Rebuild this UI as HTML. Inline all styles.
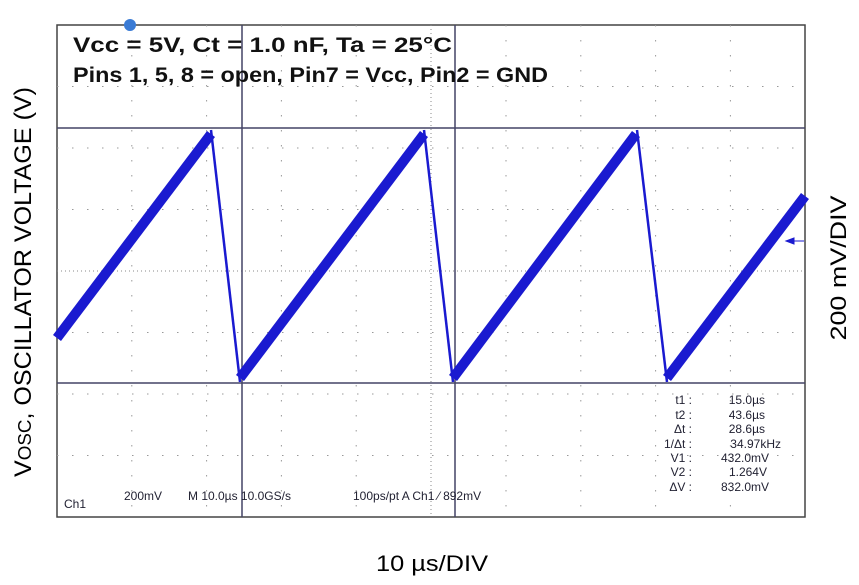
<!DOCTYPE html>
<html><head><style>
body{margin:0;background:#fff;width:859px;height:585px;overflow:hidden;position:relative;font-family:"Liberation Sans",sans-serif}
</style></head><body>
<svg width="859" height="585" style="position:absolute;left:0;top:0" font-family="Liberation Sans, sans-serif">
<rect x="57" y="25" width="748" height="492" fill="#fff" stroke="#444" stroke-width="1.5"/>
<g stroke="#999" stroke-width="1" stroke-dasharray="1.5,13.5">
<line x1="131.8" y1="25" x2="131.8" y2="517"/><line x1="206.6" y1="25" x2="206.6" y2="517"/>
<line x1="281.4" y1="25" x2="281.4" y2="517"/><line x1="356.2" y1="25" x2="356.2" y2="517"/>
<line x1="506" y1="25" x2="506" y2="517"/><line x1="580.8" y1="25" x2="580.8" y2="517"/>
<line x1="655.6" y1="25" x2="655.6" y2="517"/><line x1="730.4" y1="25" x2="730.4" y2="517"/>
<line x1="57" y1="86.5" x2="805" y2="86.5"/><line x1="57" y1="148" x2="805" y2="148"/>
<line x1="57" y1="209.5" x2="805" y2="209.5"/><line x1="57" y1="332.5" x2="805" y2="332.5"/>
<line x1="57" y1="394" x2="805" y2="394"/><line x1="57" y1="455.5" x2="805" y2="455.5"/>
</g>
<g stroke="#888" stroke-width="1" stroke-dasharray="1,3">
<line x1="431" y1="25" x2="431" y2="517"/><line x1="57" y1="271" x2="805" y2="271"/>
</g>
<g stroke="#446" stroke-width="1.5">
<line x1="57" y1="128" x2="805" y2="128"/><line x1="57" y1="383" x2="805" y2="383"/>
<line x1="242" y1="25" x2="242" y2="517"/><line x1="455" y1="25" x2="455" y2="517"/>
</g>
<circle cx="130" cy="25" r="6" fill="#3a7bd5"/>
<g fill="none" stroke="#1a1ad0" stroke-linejoin="round">
<polyline stroke-width="10" points="57,338 211,134"/>
<polyline stroke-width="10" points="240,378 424,134"/>
<polyline stroke-width="10" points="453,378 636,134"/>
<polyline stroke-width="10" points="667,378 805,196"/>
<line stroke-width="2.5" x1="211" y1="130" x2="240" y2="382"/>
<line stroke-width="2.5" x1="424" y1="130" x2="453" y2="382"/>
<line stroke-width="2.5" x1="637" y1="130" x2="667" y2="382"/>
</g>
<path d="M786,241 l8,-3 v6z M794,241 h10" stroke="#1a1ad0" fill="#1a1ad0" stroke-width="1"/>
<text x="73" y="52" font-size="21" font-weight="bold" fill="#111" textLength="379" lengthAdjust="spacingAndGlyphs">Vcc =  5V, Ct = 1.0 nF, Ta = 25°C</text>
<text x="73" y="82" font-size="21" font-weight="bold" fill="#111" textLength="475" lengthAdjust="spacingAndGlyphs">Pins 1, 5, 8 = open, Pin7 = Vcc, Pin2 = GND</text>
<g font-size="12" fill="#223">
<text x="64" y="508">Ch1</text>
<text x="124" y="500">200mV</text>
<text x="188" y="500">M 10.0µs 10.0GS/s</text>
<text x="353" y="500">100ps/pt  A  Ch1  ⁄  892mV</text>
<g text-anchor="end">
<text x="692" y="404">t1 :</text><text x="692" y="419">t2 :</text><text x="692" y="433">Δt :</text>
<text x="692" y="448">1/Δt :</text><text x="692" y="462">V1 :</text><text x="692" y="476">V2 :</text><text x="692" y="491">ΔV :</text>
<text x="765" y="404">15.0µs</text><text x="765" y="419">43.6µs</text><text x="765" y="433">28.6µs</text>
<text x="781" y="448">34.97kHz</text><text x="769" y="462">432.0mV</text><text x="767" y="476">1.264V</text><text x="769" y="491">832.0mV</text>
</g>
</g>
<text transform="translate(31,282) rotate(-90)" text-anchor="middle" font-size="24" fill="#000" textLength="390" lengthAdjust="spacingAndGlyphs">V<tspan font-size="18">OSC</tspan>, OSCILLATOR VOLTAGE (V)</text>
<text transform="translate(846,268) rotate(-90)" text-anchor="middle" font-size="22" fill="#000" textLength="145" lengthAdjust="spacingAndGlyphs">200 mV/DIV</text>
<text x="432" y="571" text-anchor="middle" font-size="22" fill="#000" textLength="112" lengthAdjust="spacingAndGlyphs">10 µs/DIV</text>
</svg>
</body></html>
